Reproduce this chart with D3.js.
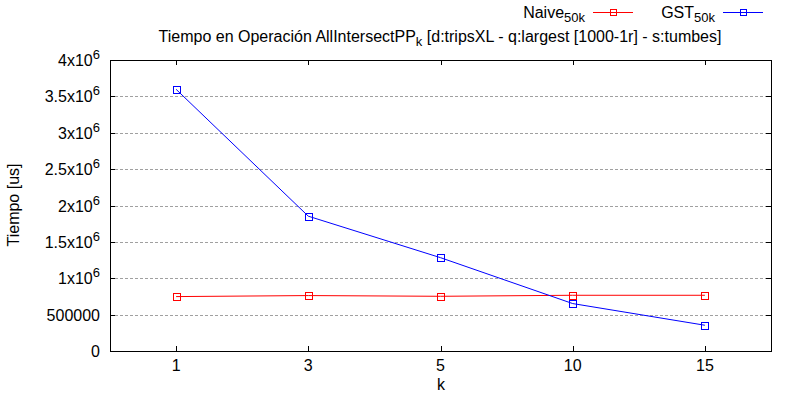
<!DOCTYPE html>
<html>
<head>
<meta charset="utf-8">
<script src="https://cdn.jsdelivr.net/npm/d3@7"></script>
<style>
body { margin: 0; background: #fff; }
text { font-family: "Liberation Sans", Arial, sans-serif; fill: #000; }
</style>
</head>
<body>
<div id="chart"></div>
<script>
// data
const kLabels = ["1", "3", "5", "10", "15"];
const naive = [748000, 762000, 752000, 766000, 766000];
const gst = [3597000, 1853000, 1283000, 652000, 354000];
const yTicks = [0, 500000, 1000000, 1500000, 2000000, 2500000, 3000000, 3500000, 4000000];

const W = 800, H = 400;
const m = { left: 110, right: 29, top: 60, bottom: 49 };
const fs = 16;

const svg = d3.select("#chart").append("svg").attr("width", W).attr("height", H);

const x = d3.scalePoint().domain(kLabels).range([m.left, W - m.right]).padding(0.5);
const y = d3.scaleLinear().domain([0, 4000000]).range([H - m.bottom, m.top]);

const fmtTick = (g, v) => {
  if (v < 1000000) { g.text(v); return; }
  const mant = v / 1000000;
  g.text(null);
  g.append("tspan").text(mant + "x10");
  g.append("tspan").attr("dy", -7).attr("font-size", 13).text("6");
};

// grid
svg.append("g").selectAll("line").data(yTicks.filter(d => d > 0 && d < 4000000)).join("line")
  .attr("x1", m.left).attr("x2", W - m.right)
  .attr("y1", d => Math.round(y(d)) + 0.5).attr("y2", d => Math.round(y(d)) + 0.5)
  .attr("stroke", "#a0a0a0").attr("stroke-dasharray", "3,2");

// ticks, mirrored inside like gnuplot
const tk = 5;
const tg = svg.append("g").attr("stroke", "#000").attr("shape-rendering", "crispEdges");
yTicks.forEach(v => {
  const yy = Math.round(y(v)) + 0.5;
  tg.append("line").attr("x1", m.left).attr("x2", m.left + tk).attr("y1", yy).attr("y2", yy);
  tg.append("line").attr("x1", W - m.right - tk).attr("x2", W - m.right).attr("y1", yy).attr("y2", yy);
});
kLabels.forEach(k => {
  const xx = Math.round(x(k)) + 0.5;
  tg.append("line").attr("x1", xx).attr("x2", xx).attr("y1", H - m.bottom).attr("y2", H - m.bottom - tk);
  tg.append("line").attr("x1", xx).attr("x2", xx).attr("y1", m.top).attr("y2", m.top + tk);
});

// frame
svg.append("rect").attr("x", m.left + 0.5).attr("y", m.top + 0.5)
  .attr("width", W - m.left - m.right).attr("height", H - m.top - m.bottom)
  .attr("fill", "none").attr("stroke", "#000").attr("shape-rendering", "crispEdges");

// tick labels
svg.append("g").selectAll("text").data(yTicks).join("text")
  .attr("x", 100).attr("y", d => y(d) + 6)
  .attr("text-anchor", "end").attr("font-size", fs)
  .each(function (d) { fmtTick(d3.select(this), d); });

svg.append("g").selectAll("text").data(kLabels).join("text")
  .attr("x", d => x(d)).attr("y", 371)
  .attr("text-anchor", "middle").attr("font-size", fs).text(d => d);

// axis titles
svg.append("text").attr("x", 441).attr("y", 390).attr("text-anchor", "middle").attr("font-size", fs).text("k");
svg.append("text").attr("transform", "translate(19,205) rotate(-90)").attr("text-anchor", "middle")
  .attr("font-size", fs).text("Tiempo [us]");

// title
const title = svg.append("text").attr("x", 440).attr("y", 42).attr("text-anchor", "middle").attr("font-size", fs);
title.append("tspan").text("Tiempo en Operación AllIntersectPP");
title.append("tspan").attr("dy", 4).attr("font-size", 13).text("k");
title.append("tspan").attr("dy", -4).text(" [d:tripsXL - q:largest [1000-1r] - s:tumbes]");

// series
const series = [
  { name: "Naive", vals: naive, color: "#ff0000", lx: 593 },
  { name: "GST", vals: gst, color: "#0000ff", lx: 723 }
];
const line = d3.line().x((d, i) => x(kLabels[i])).y(d => y(d));
const sq = 7;

series.forEach(s => {
  svg.append("path").datum(s.vals).attr("d", line)
    .attr("fill", "none").attr("stroke", s.color).attr("stroke-width", 1);
  svg.append("g").selectAll("rect").data(s.vals).join("rect")
    .attr("x", (d, i) => Math.round(x(kLabels[i]) - sq / 2) + 0.5)
    .attr("y", d => Math.round(y(d) - sq / 2) + 0.5)
    .attr("width", sq).attr("height", sq)
    .attr("fill", "none").attr("stroke", s.color).attr("shape-rendering", "crispEdges");

  // legend
  const ly = 12.5;
  const lt = svg.append("text").attr("x", s.lx - 8).attr("y", 18).attr("text-anchor", "end").attr("font-size", fs);
  lt.append("tspan").text(s.name);
  lt.append("tspan").attr("dy", 4).attr("font-size", 13).text("50k");
  svg.append("line").attr("x1", s.lx).attr("x2", s.lx + 40).attr("y1", ly).attr("y2", ly)
    .attr("stroke", s.color).attr("shape-rendering", "crispEdges");
  svg.append("rect").attr("x", s.lx + 17.5).attr("y", ly - 3).attr("width", 6).attr("height", 6)
    .attr("fill", "none").attr("stroke", s.color).attr("shape-rendering", "crispEdges");
});
</script>
</body>
</html>
